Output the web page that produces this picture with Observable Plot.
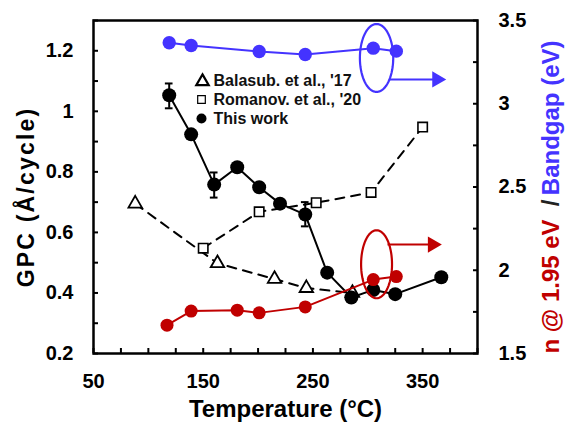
<!DOCTYPE html>
<html><head><meta charset="utf-8">
<script src="https://cdn.jsdelivr.net/npm/d3@7"></script>
<script src="https://cdn.jsdelivr.net/npm/@observablehq/plot@0.6"></script>
<style>body{margin:0;background:#fff} svg{display:block}</style>
</head><body><div id="chart"></div>
<script>
// ---- data ----
const thisWorkT   = [119, 139, 160, 181, 201, 220, 243, 263, 285, 305, 325, 367];
const thisWorkGPC = [1.053, 0.924, 0.758, 0.815, 0.749, 0.695, 0.659, 0.467, 0.385, 0.41, 0.396, 0.452];
const errT  = [119, 160, 243];
const errLo = [1.01, 0.715, 0.62];
const errHi = [1.092, 0.798, 0.70];
const romanovT   = [150, 201, 253, 303, 350];
const romanovGPC = [0.548, 0.668, 0.698, 0.732, 0.948];
const balasubT   = [88, 163, 215, 244, 286];
const balasubGPC = [0.695, 0.498, 0.446, 0.416, 0.40];
const nT = [117, 139, 181, 201, 243, 305, 326];
const nV = [1.67, 1.755, 1.76, 1.744, 1.78, 1.944, 1.962];
const bgT = [119, 139, 201, 243, 305, 326];
const bgV = [3.366, 3.35, 3.314, 3.296, 3.334, 3.316];

// annotations (right-axis units)
const ellipseT  = [308, 308];
const ellipseV  = [3.275, 2.036];
const ellipseRT = [15.2, 14.1];
const ellipseRV = [0.204, 0.204];
const arrowStartT = [320, 318];
const arrowEndT   = [363, 359];
const arrowV      = [3.146, 2.154];

// ticks
const xMinorTicks = d3.range(50, 401, 25);
const xLabelTicks = [50, 150, 250, 350];
const xTickLabels = ["50", "150", "250", "350"];
const yMinorTicks = [0.2,0.3,0.4,0.5,0.6,0.7,0.8,0.9,1.0,1.1,1.2,1.3];
const yLabelTicks = [0.2, 0.4, 0.6, 0.8, 1.0, 1.2];
const yTickLabels = ["0.2", "0.4", "0.6", "0.8", "1", "1.2"];
const rMinorTicks = [1.5,1.75,2,2.25,2.5,2.75,3,3.25,3.5];
const rLabelTicks = [1.5, 2, 2.5, 3, 3.5];
const rTickLabels = ["1.5", "2", "2.5", "3", "3.5"];

const legendLabels = ["Balasub. et al., '17", "Romanov. et al., '20", "This work"];
const xTitle = "Temperature (°C)";
const yTitle = "GPC (Å/cycle)";
const rTitleRed = "n @ 1.95 eV";
const rTitleSep = "/";
const rTitleBlue = "Bandgap (eV)";

// ---- build ----
const RED = "#c00000", BLUE = "#4433ff";
const FONT = "Liberation Sans, Arial, Helvetica, sans-serif";
const toLeft = d3.scaleLinear([1.5, 3.5], [0.2, 1.3]);

const work = thisWorkT.map((T, i) => ({T, v: thisWorkGPC[i]}));
const errs = errT.map((T, i) => ({T, lo: errLo[i], hi: errHi[i]}));
const rom = romanovT.map((T, i) => ({T, v: romanovGPC[i]}));
const bal = balasubT.map((T, i) => ({T, v: balasubGPC[i]}));
const nData = nT.map((T, i) => ({T, v: toLeft(nV[i])}));
const bgData = bgT.map((T, i) => ({T, v: toLeft(bgV[i])}));
const ellColors = [BLUE, RED];
const ellPts = [];
ellipseT.forEach((cT, k) => {
  d3.range(0, 73).forEach(j => {
    const a = j * Math.PI / 36;
    ellPts.push({id: k, T: cT + ellipseRT[k] * Math.cos(a), v: toLeft(ellipseV[k] + ellipseRV[k] * Math.sin(a))});
  });
});
const arrows = arrowV.map((v, k) => ({x1: arrowStartT[k], x2: arrowEndT[k], y: toLeft(v), c: ellColors[k]}));

const capW = 3.5;
const legendRowDy = [60, 79, 98];
const T = {textAnchor: "middle", lineAnchor: "middle", fontWeight: "bold"};

const marks = [
  Plot.line(bal, {x: "T", y: "v", stroke: "black", strokeWidth: 2, strokeDasharray: "9,7"}),
  Plot.line(rom, {x: "T", y: "v", stroke: "black", strokeWidth: 2, strokeDasharray: "9,7"}),
  Plot.dot(bal, {x: "T", y: "v", symbol: "triangle", r: 5, stroke: "black", strokeWidth: 1.8, fill: "white"}),
  Plot.dot(rom, {x: "T", y: "v", symbol: "square", r: 5.3, stroke: "black", strokeWidth: 1.6, fill: "white"}),
  Plot.ruleX(errs, {x: "T", y1: "lo", y2: "hi", stroke: "black", strokeWidth: 2}),
  Plot.ruleY(errs, {y: "lo", x1: d => d.T - capW, x2: d => d.T + capW, stroke: "black", strokeWidth: 2}),
  Plot.ruleY(errs, {y: "hi", x1: d => d.T - capW, x2: d => d.T + capW, stroke: "black", strokeWidth: 2}),
  Plot.line(work, {x: "T", y: "v", stroke: "black", strokeWidth: 2}),
  Plot.dot(work, {x: "T", y: "v", fill: "black", r: 7}),
  Plot.line(nData, {x: "T", y: "v", stroke: RED, strokeWidth: 2}),
  Plot.dot(nData, {x: "T", y: "v", fill: RED, r: 6.5}),
  Plot.line(bgData, {x: "T", y: "v", stroke: BLUE, strokeWidth: 2}),
  Plot.dot(bgData, {x: "T", y: "v", fill: BLUE, r: 6.7}),
  Plot.line(ellPts, {x: "T", y: "v", z: "id", stroke: d => ellColors[d.id], strokeWidth: 2.2}),
  Plot.link(arrows, {x1: "x1", x2: "x2", y1: "y", y2: "y", stroke: "c", strokeWidth: 2}),
  Plot.dot(arrows, {x: "x2", y: "y", symbol: "triangle", rotate: 90, r: 6, fill: "c", stroke: "none"}),
  Plot.frame({stroke: "black", strokeWidth: 2.5}),
  // x axis
  Plot.axisX({ticks: xMinorTicks, tickSize: -5, tickFormat: () => "", strokeWidth: 2, label: null}),
  Plot.axisX({ticks: xLabelTicks, tickSize: 0, tickPadding: 20, tickFormat: d => xTickLabels[xLabelTicks.indexOf(d)], fontSize: 20, fontWeight: "bold", label: null}),
  // left axis
  Plot.axisY({ticks: yMinorTicks, tickSize: -5, tickFormat: () => "", strokeWidth: 2, label: null}),
  Plot.axisY({ticks: yLabelTicks, tickSize: 0, tickPadding: 20, tickFormat: d => yTickLabels[yLabelTicks.indexOf(d)], fontSize: 20, fontWeight: "bold", label: null}),
  // right axis
  Plot.axisY({anchor: "right", ticks: rMinorTicks.map(toLeft), tickSize: -5, tickFormat: () => "", strokeWidth: 2, label: null}),
  Plot.axisY((() => { const t = rLabelTicks.map(toLeft); return {anchor: "right", ticks: t, tickSize: 0, tickPadding: 21, tickFormat: d => rTickLabels[t.indexOf(d)], fontSize: 20, fontWeight: "bold", label: null}; })()),
  // titles
  Plot.text([xTitle], {...T, text: d => d, frameAnchor: "bottom", dy: 56, fontSize: 24, fill: "black"}),
  Plot.text([yTitle], {...T, text: d => d, frameAnchor: "left", dx: -67, dy: 10, rotate: -90, fontSize: 23, fill: "black"}),
  Plot.text([rTitleRed], {...T, text: d => d, frameAnchor: "bottom-right", dx: 74, rotate: -90, textAnchor: "start", fontSize: 24, fill: RED}),
  Plot.text([rTitleSep], {...T, text: d => d, frameAnchor: "right", dx: 74, dy: 16, rotate: -90, fontSize: 24, fill: "#222"}),
  Plot.text([rTitleBlue], {...T, text: d => d, frameAnchor: "top-right", dx: 74, dy: 20, rotate: -90, textAnchor: "end", fontSize: 24, fill: BLUE}),
  // legend
  Plot.dot([0], {frameAnchor: "top-left", dx: 109, dy: legendRowDy[0] + 1, symbol: "triangle", r: 4.6, stroke: "black", strokeWidth: 2.2, fill: "white"}),
  Plot.dot([0], {frameAnchor: "top-left", dx: 108, dy: legendRowDy[1], symbol: "square", r: 4.3, stroke: "black", strokeWidth: 1.2, fill: "white"}),
  Plot.dot([0], {frameAnchor: "top-left", dx: 108, dy: legendRowDy[2], r: 5, fill: "black"}),
  ...legendLabels.map((lab, i) => Plot.text([lab], {...T, text: d => d, frameAnchor: "top-left", dx: 120, dy: legendRowDy[i], textAnchor: "start", fontSize: 16, fill: "#111"}))
];

const chart = Plot.plot({
  width: 569, height: 422,
  marginLeft: 93, marginRight: 92, marginTop: 20, marginBottom: 69,
  x: {domain: [50, 400]},
  y: {domain: [0.2, 1.3]},
  style: {fontFamily: FONT, background: "white", color: "black"},
  marks
});
d3.select(chart).selectAll("text").filter(function() { return this.textContent === yTitle; })
  .style("letter-spacing", "2.2px");
document.getElementById("chart").appendChild(chart);
</script></body></html>
